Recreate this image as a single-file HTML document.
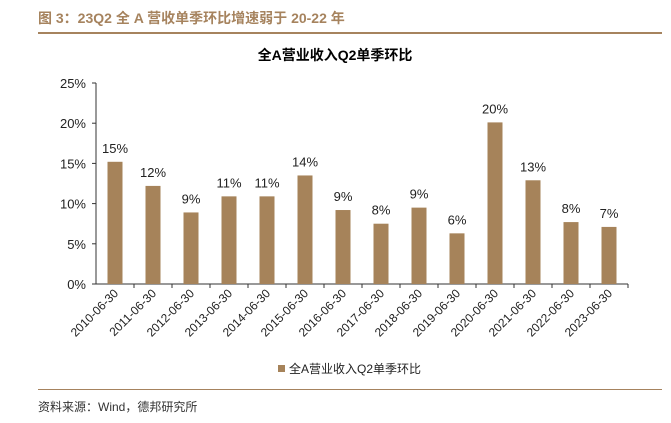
<!DOCTYPE html>
<html><head><meta charset="utf-8"><style>
body{margin:0;background:#fff;width:671px;height:423px;overflow:hidden;position:relative;font-family:"Liberation Sans","Noto Sans CJK SC",sans-serif}
.t{position:absolute;left:38px;top:8px;font-size:14px;font-weight:bold;color:#a6835e}
.l1{position:absolute;left:38px;top:32px;width:624px;height:2px;background:#a6835e}
.l2{position:absolute;left:38px;top:389px;width:624px;height:1px;background:#a6835e}
.src{position:absolute;left:38px;top:398px;font-size:12px;color:#333}
</style></head><body>
<div class="t">图 3：23Q2 全 A 营收单季环比增速弱于 20-22 年</div>
<div class="l1"></div>
<svg id="c" width="671" height="423" style="position:absolute;left:0;top:0"></svg>
<div class="l2"></div>
<div class="src">资料来源：Wind，德邦研究所</div>
<script>
const categories=["2010-06-30","2011-06-30","2012-06-30","2013-06-30","2014-06-30","2015-06-30","2016-06-30","2017-06-30","2018-06-30","2019-06-30","2020-06-30","2021-06-30","2022-06-30","2023-06-30"];
const values=[15.2,12.2,8.9,10.9,10.9,13.5,9.2,7.5,9.5,6.3,20.1,12.9,7.7,7.1];
const labels=["15%","12%","9%","11%","11%","14%","9%","8%","9%","6%","20%","13%","8%","7%"];
const ticks=[0,5,10,15,20,25];
const svg=document.getElementById('c');const NS="http://www.w3.org/2000/svg";
const x0=96,step=38,y0=284,ppu=8.04;
const y=v=>y0-v*ppu;const x=i=>x0+i*step;
function mk(t,a,txt){const e=document.createElementNS(NS,t);for(const k in a)e.setAttribute(k,a[k]);if(txt!==undefined)e.textContent=txt;svg.appendChild(e);return e;}
let e=mk('text',{x:335,y:60,'text-anchor':'middle','font-size':14,'font-weight':'bold',fill:'#000'},'全A营业收入Q2单季环比');


ticks.forEach(t=>{
 let tl=mk('text',{x:86,y:y(t)+5,'text-anchor':'end','font-size':13,fill:'#222'},t+'%');
 
 
 let tm=mk('line',{x1:x0-4,x2:x0,y1:y(t),y2:y(t),stroke:'#333'});
 
 
});
e=mk('line',{x1:x0,x2:x0,y1:y(25),y2:y0,stroke:'#333'});


e=mk('line',{x1:x0,x2:x(categories.length),y1:y0,y2:y0,stroke:'#333'});


categories.forEach((c,i)=>{
 const cx=x(i)+step/2;
 let b=mk('rect',{x:cx-7.5,y:y(values[i]),width:15,height:values[i]*ppu,fill:'#a6835a'});
 
 
 let v=mk('text',{x:cx,y:y(values[i])-9,'text-anchor':'middle','font-size':13,fill:'#222'},labels[i]);
 
 
 let tk=mk('line',{x1:x(i+1),x2:x(i+1),y1:y0,y2:y0+4,stroke:'#333'});
 
 
 let xl=mk('text',{x:cx+4,y:y0+10,'text-anchor':'end','font-size':12,fill:'#222',transform:`rotate(-45 ${cx+4} ${y0+10})`},c);
 
 
});
e=mk('rect',{x:278,y:365,width:7,height:7,fill:'#a6835a'});


e=mk('text',{x:289,y:373,'font-size':12,fill:'#222'},'全A营业收入Q2单季环比');


</script>
</body></html>
